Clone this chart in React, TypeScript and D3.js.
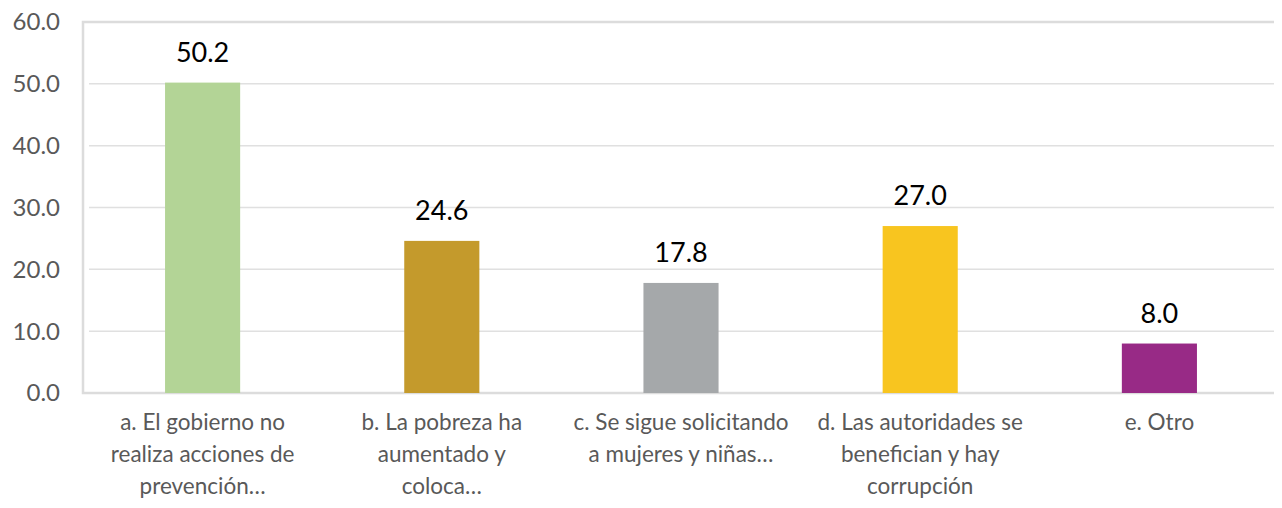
import React, { useEffect, useRef } from 'react';
import * as d3 from 'd3';

const categories = ['a', 'b', 'c', 'd', 'e'];
const labelLines = [
  ['a. El gobierno no', 'realiza acciones de', 'prevención…'],
  ['b. La pobreza ha', 'aumentado y', 'coloca…'],
  ['c. Se sigue solicitando', 'a mujeres y niñas…'],
  ['d. Las autoridades se', 'benefician y hay', 'corrupción'],
  ['e. Otro'],
];
const values = [50.2, 24.6, 17.8, 27.0, 8.0];
const colors = ['#b3d496', '#c49a2c', '#a5a8aa', '#f8c51f', '#982a86'];
const yTicks = [0, 10, 20, 30, 40, 50, 60];

const App = () => {
  const svgRef = useRef<SVGSVGElement>(null);

  useEffect(() => {
    const width = 1282;
    const height = 508;
    const margin = { top: 22, right: 3, bottom: 115, left: 83 };
    const innerW = width - margin.left - margin.right;
    const innerH = height - margin.top - margin.bottom;

    const svg = d3.select(svgRef.current);
    svg.selectAll('*').remove();

    const g = svg.append('g').attr('transform', `translate(${margin.left},${margin.top})`);

    const x = d3.scaleBand().domain(categories).range([0, innerW]).paddingInner(0.686).paddingOuter(0.343);
    const y = d3.scaleLinear().domain([0, 60]).range([innerH, 0]);

    // frame
    g.append('rect')
      .attr('x', 0)
      .attr('y', 0)
      .attr('width', innerW)
      .attr('height', innerH)
      .attr('fill', 'none')
      .attr('stroke', '#dcdcdc')
      .attr('stroke-width', 2.5);

    // gridlines
    g.selectAll('.grid')
      .data(yTicks.filter(t => t > 0 && t < 60))
      .join('line')
      .attr('x1', 6)
      .attr('x2', innerW)
      .attr('y1', d => y(d))
      .attr('y2', d => y(d))
      .attr('stroke', '#e0e0e0')
      .attr('stroke-width', 1.5);

    // y tick labels
    g.selectAll('.ytick')
      .data(yTicks)
      .join('text')
      .attr('x', -23)
      .attr('y', d => y(d))
      .attr('dy', '0.35em')
      .attr('text-anchor', 'end')
      .attr('font-family', 'Lato, sans-serif')
      .attr('font-size', 24)
      .attr('fill', '#595959')
      .text(d => d.toFixed(1));

    // bars
    g.selectAll('.bar')
      .data(values)
      .join('rect')
      .attr('x', (d, i) => x(categories[i])!)
      .attr('y', d => y(d))
      .attr('width', x.bandwidth())
      .attr('height', d => innerH - y(d))
      .attr('fill', (d, i) => colors[i]);

    // value labels
    g.selectAll('.val')
      .data(values)
      .join('text')
      .attr('x', (d, i) => x(categories[i])! + x.bandwidth() / 2)
      .attr('y', d => y(d) - 21)
      .attr('text-anchor', 'middle')
      .attr('font-family', 'Lato, sans-serif')
      .attr('font-size', 27)
      .attr('fill', '#000')
      .text(d => d.toFixed(1));

    // x labels
    const xl = g.selectAll('.xl')
      .data(categories)
      .join('text')
      .attr('text-anchor', 'middle')
      .attr('font-family', 'Lato, sans-serif')
      .attr('font-size', 22.5)
      .attr('fill', '#595959')
      .attr('transform', d => `translate(${x(d)! + x.bandwidth() / 2},${innerH + 37})`);

    xl.selectAll('tspan')
      .data((d, i) => labelLines[i])
      .join('tspan')
      .attr('x', 0)
      .attr('y', (d, j) => j * 32)
      .text(d => d);
  }, []);

  return <svg ref={svgRef} width={1282} height={508} style={{ display: 'block', margin: '-8px', background: '#fff' }}></svg>;
};

export default App;
